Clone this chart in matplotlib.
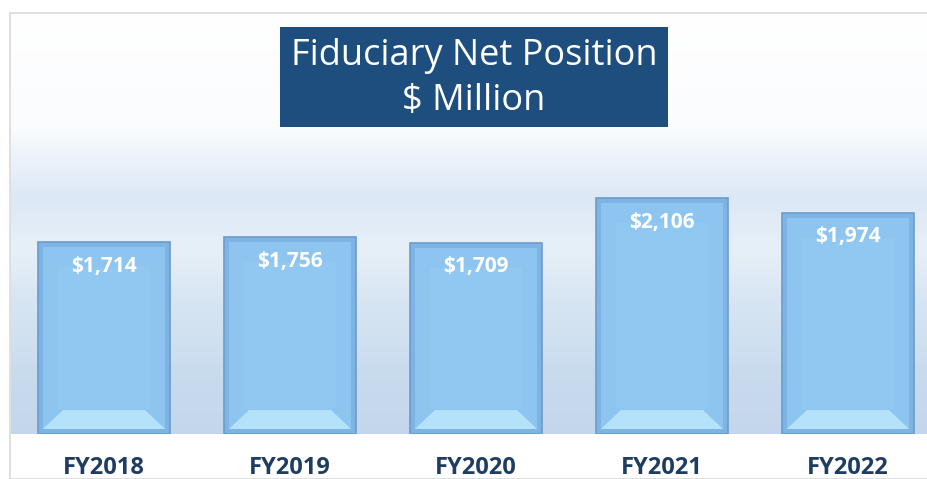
import numpy as np
import matplotlib
matplotlib.use('Agg')
import matplotlib.pyplot as plt
from matplotlib.patches import Rectangle, Polygon
from matplotlib.colors import LinearSegmentedColormap

years = ['FY2018', 'FY2019', 'FY2020', 'FY2021', 'FY2022']
values = [1714, 1756, 1709, 2106, 1974]
labels = ['$1,714', '$1,756', '$1,709', '$2,106', '$1,974']

W, H = 927, 479
fig = plt.figure(figsize=(W / 100, H / 100), dpi=100)
fig.patch.set_facecolor('white')

# chart frame (top and left border)
frame = Rectangle((10 / W, 0), 1.0, 1 - 13 / H, transform=fig.transFigure,
                  facecolor='none', edgecolor='#d9d9d9', lw=1.2, zorder=0)
fig.patches.append(frame)

ax = fig.add_axes([11 / W, (H - 434) / H, 1 - 11 / W, (434 - 13) / H])
ax.set_xlim(-0.5, 4.425)
ax.set_ylim(0, 3759)

# background gradient
stops = [(0.0, '#c3d6eb'), (0.15, '#c9dcee'), (0.32, '#d8e6f3'),
         (0.44, '#e7f0f8'), (0.56, '#dce8f5'), (0.65, '#ebf2fa'),
         (0.73, '#fbfcfe'), (1.0, '#ffffff')]
cmap = LinearSegmentedColormap.from_list('bg', stops)
grad = np.linspace(0, 1, 256).reshape(-1, 1)
ax.imshow(grad, aspect='auto', cmap=cmap, origin='lower',
          extent=[-0.5, 4.425, 0, 3759], zorder=0)

px_x = 1 / 186.0
px_y = 1 / 0.112
x = np.arange(len(years))
bars = ax.bar(x, values, width=0.71, color='#7db4e4', edgecolor='#6a9ccc',
              lw=1.2, zorder=2)

for b, lab in zip(bars, labels):
    x0 = b.get_x()
    x1 = x0 + b.get_width()
    h = b.get_height()
    rx, ry = 5 * px_x, 5 * px_y
    # inner face
    ax.add_patch(Rectangle((x0 + rx, ry), (x1 - x0) - 2 * rx, h - 2 * ry,
                           facecolor='#8dc5f0', edgecolor='none', zorder=3))
    # slightly lighter centre
    ax.add_patch(Rectangle((x0 + 4 * rx, 5 * ry), (x1 - x0) - 8 * rx, h - 10 * ry,
                           facecolor='#91c8f2', edgecolor='none', zorder=3))
    # bottom bevel
    bh = 19 * px_y
    dx = 20 * px_x
    ax.add_patch(Polygon([(x0 + rx, ry), (x1 - rx, ry), (x1 - rx - dx, ry + bh),
                          (x0 + rx + dx, ry + bh)], closed=True,
                         facecolor='#b4e2fb', edgecolor='none', zorder=4))
    ax.text((x0 + x1) / 2, h - 24 * px_y, lab, ha='center', va='center',
            color='white', fontsize=15, fontweight='bold',
            family='Open Sans', zorder=5)

ax.set_xticks(x)
ax.set_xticklabels(years, fontsize=17, fontweight='bold', family='Open Sans',
                   color='#1f3d63')
ax.tick_params(axis='x', length=0, pad=16)
ax.set_yticks([])
for s in ax.spines.values():
    s.set_visible(False)

# title box
tb = Rectangle((280 / W, 1 - 127 / H), 388 / W, 100 / H, transform=fig.transFigure,
               facecolor='#1d4e7d', edgecolor='none', zorder=3)
fig.patches.append(tb)
fig.text(474 / W, 1 - 56 / H, 'Fiduciary Net Position', ha='center', va='center',
         color='white', fontsize=26, family='Open Sans')
fig.text(474 / W, 1 - 101 / H, '$ Million', ha='center', va='center',
         color='white', fontsize=26, family='Open Sans')

fig.savefig('out.png', dpi=100)
